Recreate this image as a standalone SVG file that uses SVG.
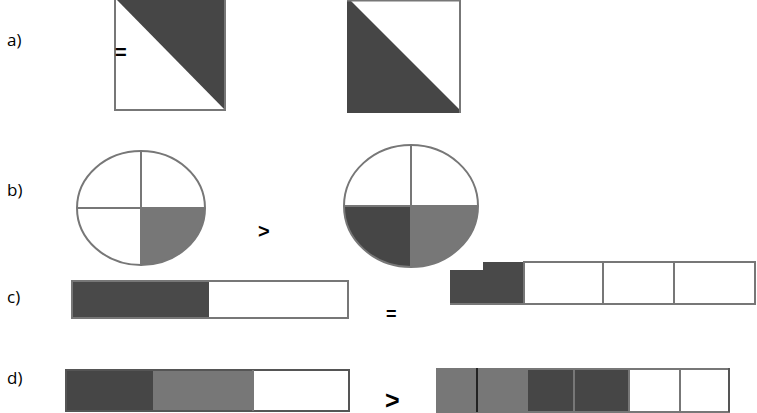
<svg xmlns="http://www.w3.org/2000/svg" width="757" height="413" viewBox="0 0 757 413">
<style>
.lbl{font-family:"Open Sans","Liberation Sans",sans-serif;font-size:17px;fill:#000}
.sym{font-family:"Liberation Sans",Arial,sans-serif;font-size:20px;font-weight:bold;fill:#000}
.ol{fill:none;stroke:#777;stroke-width:2}
.dk{fill:#464646}
.md{fill:#777}
.wh{fill:#fff}
.ln{stroke:#777;stroke-width:2}
</style>
<rect width="757" height="413" fill="#fff"/>
<g id="labels">
<text class="lbl" x="7" y="46">a)</text>
<text class="lbl" x="7" y="196">b)</text>
<text class="lbl" x="7" y="303">c)</text>
<text class="lbl" x="7" y="384">d)</text>
</g>
<g id="a-left">
<rect class="wh" x="115" y="0" width="110" height="110"/>
<polygon class="dk" points="117,0 225,0 225,110"/>
<path class="ol" d="M115,0 V110 H225 V0"/>
</g>
<g id="a-eq"><text class="sym" x="115" y="59">=</text></g>
<g id="a-right">
<rect class="wh" x="347" y="0" width="113" height="112"/>
<polygon class="dk" points="347,0 350,0 460,110 460,113 347,113"/>
<path class="ol" d="M347,0.5 H460 V113"/>
</g>
<g id="b-left">
<ellipse cx="141" cy="208" rx="64" ry="57" fill="#fff"/>
<path class="md" d="M141,208 H205 A64,57 0 0 1 141,265 Z"/>
<ellipse class="ol" cx="141" cy="208" rx="64" ry="57"/>
<line class="ln" x1="141" y1="151" x2="141" y2="266"/>
<line class="ln" x1="77" y1="208" x2="205" y2="208"/>
</g>
<g id="b-gt"><text class="sym" x="258" y="238">&gt;</text></g>
<g id="b-right">
<ellipse cx="411" cy="206" rx="67" ry="61" fill="#fff"/>
<path class="dk" d="M411,206 H344 A67,61 0 0 0 411,267 Z"/>
<path class="md" d="M411,206 H478 A67,61 0 0 1 411,267 Z"/>
<ellipse class="ol" cx="411" cy="206" rx="67" ry="61"/>
<line class="ln" x1="411" y1="145" x2="411" y2="268"/>
<line class="ln" x1="344" y1="206" x2="478" y2="206"/>
</g>
<g id="c-left">
<rect class="wh" x="72" y="281" width="276" height="37"/>
<rect fill="#494949" x="72" y="281" width="137" height="37"/>
<rect class="ol" x="72" y="281" width="276" height="37"/>
</g>
<g id="c-eq"><text class="sym" x="386" y="320" style="font-size:18px">=</text></g>
<g id="c-right">
<rect class="wh" x="450" y="262" width="306" height="42"/>
<polygon fill="#494949" points="450,270 483,270 483,262 523,262 523,304 450,304"/>
<path class="ol" d="M523,262 H755 V304 H450"/>
<line class="ln" x1="524" y1="262" x2="524" y2="304"/>
<line class="ln" x1="603" y1="262" x2="603" y2="304"/>
<line class="ln" x1="674" y1="262" x2="674" y2="304"/>
</g>
<g id="d-left">
<rect class="wh" x="66" y="370" width="283" height="41"/>
<rect class="dk" x="66" y="370" width="87" height="41"/>
<rect class="md" x="153" y="370" width="100" height="41"/>
<rect fill="none" stroke="#555" stroke-width="2" x="66" y="370" width="283" height="41"/>
<line class="ln" x1="253" y1="370" x2="253" y2="411"/>
</g>
<g id="d-gt"><text class="sym" x="385" y="409" style="font-size:25px">&gt;</text></g>
<g id="d-right">
<rect class="wh" x="437" y="368" width="292" height="44"/>
<rect class="md" x="437" y="368" width="90" height="44"/>
<rect class="dk" x="527" y="368" width="102" height="44"/>
<rect class="ol" x="437" y="369" width="292" height="43"/>
<line stroke="#222" stroke-width="2" x1="477" y1="368" x2="477" y2="412"/>
<line class="ln" x1="527" y1="368" x2="527" y2="412"/>
<line class="ln" x1="574" y1="368" x2="574" y2="412"/>
<line class="ln" x1="629" y1="368" x2="629" y2="412"/>
<line class="ln" x1="680" y1="368" x2="680" y2="412"/>
<line stroke="#555" stroke-width="2" x1="729" y1="368" x2="729" y2="412"/>
</g>
</svg>
